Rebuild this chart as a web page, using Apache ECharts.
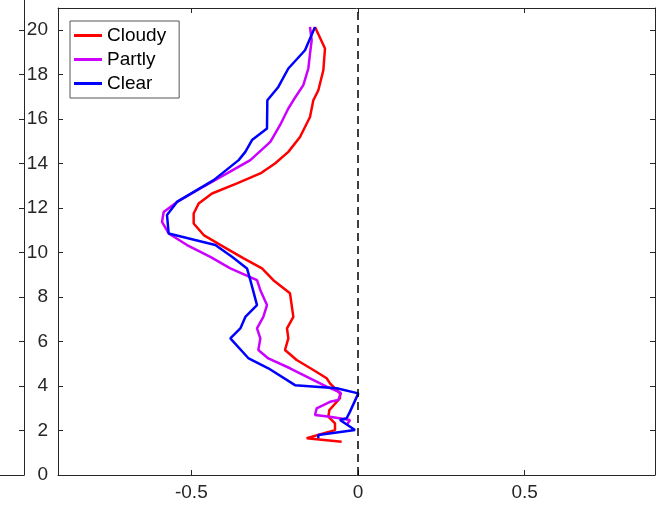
<!DOCTYPE html>
<html>
<head>
<meta charset="utf-8">
<script src="https://cdn.jsdelivr.net/npm/echarts@6/dist/echarts.min.js"></script>
<style>html,body{margin:0;padding:0;background:#fff;}#c{width:656px;height:506px;}</style>
</head>
<body>
<div id="c"></div>
<script>
const seriesNames = ['Cloudy', 'Partly', 'Clear'];
const xTicks = [-0.5, 0, 0.5];
const yTicks = [0, 2, 4, 6, 8, 10, 12, 14, 16, 18, 20];

const cloudyX = [-0.049, -0.154, -0.104, -0.069, -0.069, -0.089, -0.086, -0.054, -0.054, -0.084, -0.094, -0.134, -0.184, -0.219, -0.209, -0.213, -0.194, -0.204, -0.254, -0.288, -0.343, -0.403, -0.463, -0.493, -0.493, -0.478, -0.438, -0.363, -0.293, -0.249, -0.209, -0.174, -0.144, -0.134, -0.119, -0.104, -0.099, -0.129];
const cloudyY = [1.50, 1.65, 1.87, 2.02, 2.32, 2.62, 2.92, 3.45, 3.67, 4.12, 4.35, 4.72, 5.17, 5.62, 6.14, 6.59, 7.11, 8.17, 8.76, 9.29, 9.74, 10.26, 10.79, 11.31, 11.76, 12.21, 12.66, 13.11, 13.56, 14.01, 14.53, 15.20, 16.10, 16.85, 17.30, 18.20, 19.18, 20.15];

const partlyX = [-0.034, -0.024, -0.084, -0.129, -0.124, -0.084, -0.059, -0.051, -0.094, -0.144, -0.204, -0.269, -0.299, -0.293, -0.303, -0.284, -0.273, -0.293, -0.303, -0.383, -0.443, -0.513, -0.568, -0.588, -0.583, -0.543, -0.473, -0.393, -0.323, -0.263, -0.234, -0.209, -0.194, -0.164, -0.149, -0.144, -0.139, -0.144];
const partlyY = [2.25, 2.47, 2.62, 2.70, 3.00, 3.29, 3.37, 3.69, 3.97, 4.35, 4.80, 5.24, 5.62, 6.14, 6.59, 7.11, 7.64, 8.31, 8.76, 9.29, 9.81, 10.34, 10.86, 11.38, 11.83, 12.28, 12.89, 13.56, 14.16, 14.98, 15.73, 16.48, 16.85, 17.53, 18.28, 18.95, 19.55, 20.15];

const clearX = [-0.119, -0.119, -0.009, -0.054, -0.034, -0.024, 0.001, -0.064, -0.189, -0.269, -0.328, -0.383, -0.353, -0.338, -0.303, -0.323, -0.333, -0.378, -0.428, -0.568, -0.573, -0.543, -0.433, -0.358, -0.338, -0.318, -0.273, -0.272, -0.239, -0.209, -0.159, -0.129];
const clearY = [1.65, 1.80, 2.02, 2.47, 2.55, 2.85, 3.67, 3.90, 4.04, 4.80, 5.24, 6.14, 6.59, 7.11, 7.64, 8.76, 9.29, 9.81, 10.34, 10.86, 11.69, 12.28, 13.26, 14.16, 14.53, 15.06, 15.58, 16.85, 17.45, 18.28, 19.10, 20.15];

const colors = ['#FF0000', '#CC00FF', '#0000FF'];
const xs = [cloudyX, partlyX, clearX];
const ys = [cloudyY, partlyY, clearY];

const FONT = "'Liberation Sans', Arial, Helvetica, sans-serif";
const AX = '#262626';

const chart = echarts.init(document.getElementById('c'), null, {renderer: 'canvas'});

const series = seriesNames.map((name, i) => ({
  name: name,
  type: 'line',
  xAxisIndex: 0,
  yAxisIndex: 0,
  data: xs[i].map((x, k) => [x, ys[i][k]]),
  symbol: 'none',
  showSymbol: false,
  smooth: false,
  animation: false,
  z: 3,
  lineStyle: {color: colors[i], width: 2.5},
  itemStyle: {color: colors[i]}
}));
series[0].markLine = {
  silent: true,
  symbol: 'none',
  animation: false,
  label: {show: false},
  lineStyle: {color: '#000', width: 1.5, type: [8, 5]},
  data: [{xAxis: 0}]
};

const hiddenLabel = {show: false};

chart.setOption({
  backgroundColor: '#fff',
  animation: false,
  textStyle: {fontFamily: FONT},
  grid: [
    {left: 58, right: 1, top: 8, bottom: 31, containLabel: false, outerBoundsMode: 'none'},
    {left: -200, width: 224, top: 0, bottom: 31, containLabel: false, outerBoundsMode: 'none'}
  ],
  legend: {
    data: seriesNames,
    orient: 'vertical',
    left: 70,
    top: 21,
    icon: 'rect',
    itemWidth: 28,
    itemHeight: 3,
    itemGap: 5,
    padding: [5, 13, 5, 4],
    backgroundColor: '#fff',
    borderColor: '#555',
    borderWidth: 1,
    textStyle: {fontFamily: FONT, fontSize: 19, color: '#000'}
  },
  xAxis: [
    {
      type: 'value', gridIndex: 0, position: 'bottom', min: -0.9, max: 0.891,
      axisLine: {show: true, onZero: false, lineStyle: {color: AX, width: 1}},
      axisTick: {show: true, inside: true, length: 5, customValues: xTicks, lineStyle: {color: AX}},
      axisLabel: {show: true, customValues: xTicks, margin: 8, fontSize: 19, color: AX, fontFamily: FONT,
        formatter: v => String(v)},
      splitLine: {show: false}
    },
    {
      type: 'value', gridIndex: 0, position: 'top', min: -0.9, max: 0.891,
      axisLine: {show: true, onZero: false, lineStyle: {color: AX, width: 1}},
      axisTick: {show: true, inside: true, length: 5, customValues: xTicks, lineStyle: {color: AX}},
      axisLabel: hiddenLabel,
      splitLine: {show: false}
    },
    {
      type: 'value', gridIndex: 1, position: 'bottom', min: 0, max: 1,
      axisLine: {show: true, onZero: false, lineStyle: {color: AX, width: 1}},
      axisTick: {show: false},
      axisLabel: hiddenLabel,
      splitLine: {show: false}
    }
  ],
  yAxis: [
    {
      type: 'value', gridIndex: 0, position: 'left', min: 0, max: 21,
      axisLine: {show: true, onZero: false, lineStyle: {color: AX, width: 1}},
      axisTick: {show: true, inside: true, length: 5, customValues: yTicks, lineStyle: {color: AX}},
      axisLabel: {show: true, customValues: yTicks, margin: 10, fontSize: 19, color: AX, fontFamily: FONT},
      splitLine: {show: false}
    },
    {
      type: 'value', gridIndex: 0, position: 'right', min: 0, max: 21,
      axisLine: {show: true, onZero: false, lineStyle: {color: AX, width: 1}},
      axisTick: {show: true, inside: true, length: 5, customValues: yTicks, lineStyle: {color: AX}},
      axisLabel: hiddenLabel,
      splitLine: {show: false}
    },
    {
      type: 'value', gridIndex: 1, position: 'right', min: 0, max: 21.35,
      axisLine: {show: true, onZero: false, lineStyle: {color: AX, width: 1}},
      axisTick: {show: true, inside: true, length: 5, customValues: yTicks, lineStyle: {color: AX}},
      axisLabel: hiddenLabel,
      splitLine: {show: false}
    }
  ],
  series: series
});
</script>
</body>
</html>
